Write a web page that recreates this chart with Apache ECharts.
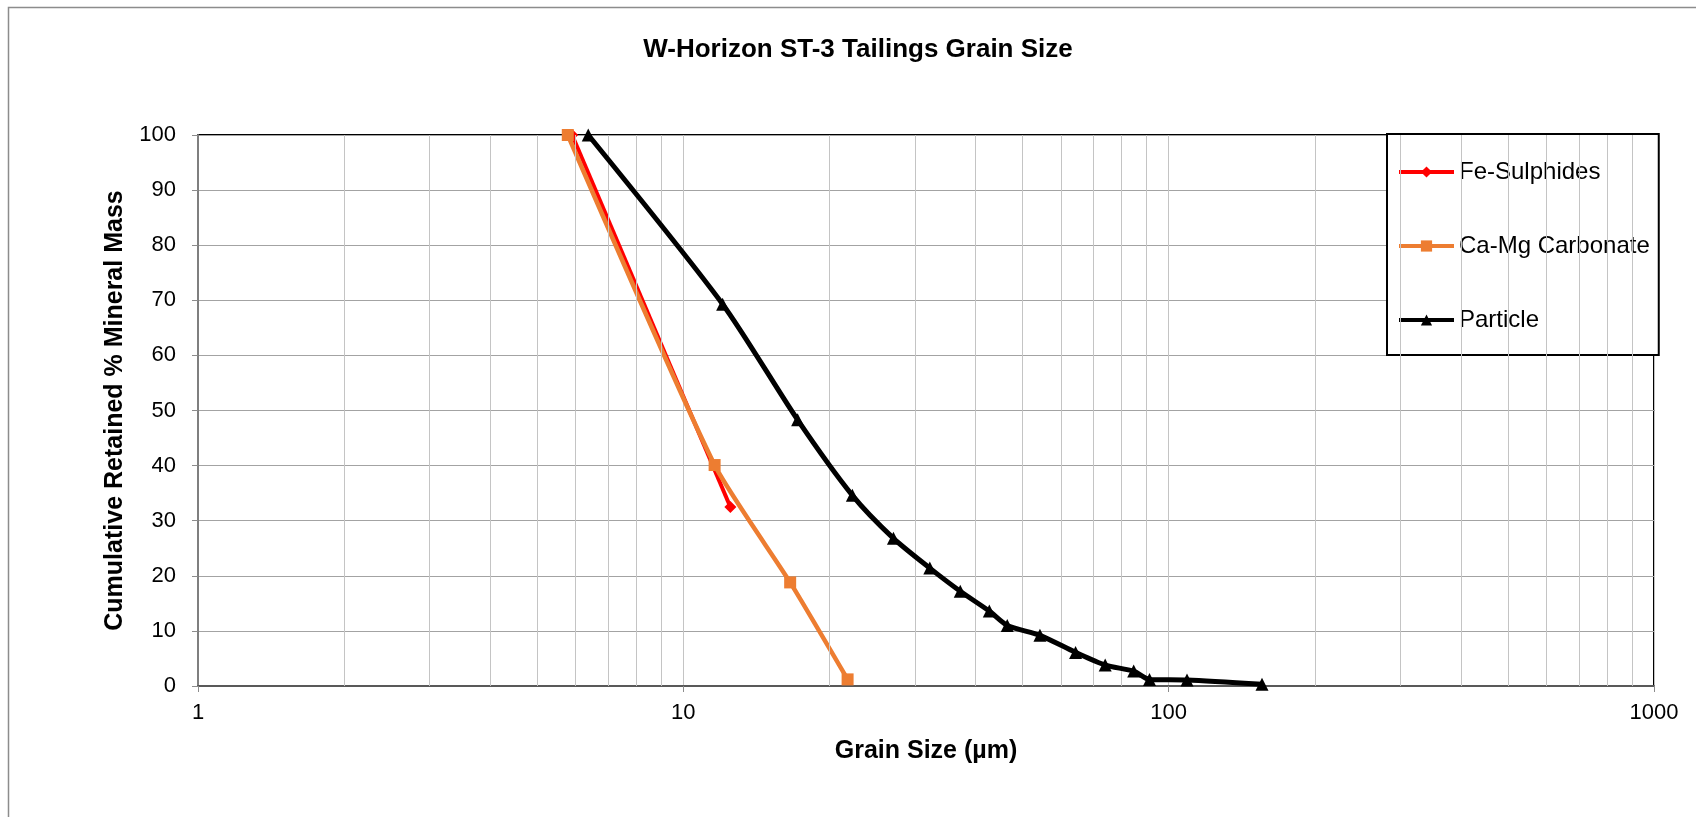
<!DOCTYPE html>
<html>
<head>
<meta charset="utf-8">
<script src="https://cdn.jsdelivr.net/npm/echarts@6/dist/echarts.min.js"></script>
<style>
  html, body { margin: 0; padding: 0; background: #fff; }
  #main { width: 1696px; height: 817px; }
</style>
</head>
<body>
<div id="main"></div>
<script>
var myChart = echarts.init(document.getElementById('main'));

// grain size (um) / cumulative retained %
var feSize = [5.9, 12.5];
var feRetained = [100, 32.5];

var caSize = [5.78, 11.6, 16.6, 21.8];
var caRetained = [100, 40.1, 18.8, 1.2];

var partSize = [6.37, 12.05, 17.2, 22.3, 27.1, 32.2, 37.2, 42.7, 46.5, 54.3, 64.3, 74.0, 84.7, 91.3, 109.1, 155.7];
var partRetained = [100, 69.3, 48.3, 34.6, 26.8, 21.4, 17.2, 13.6, 11.0, 9.2, 6.1, 3.8, 2.7, 1.2, 1.1, 0.3];

var xTicks = [1, 10, 100, 1000];
var yTicks = [0, 10, 20, 30, 40, 50, 60, 70, 80, 90, 100];

// minor log gridlines 2..9 in each decade
var minorX = [];
for (var d = 0; d < xTicks.length - 1; d++) {
    for (var k = 2; k <= 9; k++) {
        minorX.push({ xAxis: k * xTicks[d] });
    }
}

function pairs(xs, ys) {
    return xs.map(function (x, i) { return [x, ys[i]]; });
}

var font = 'Liberation Sans';

var option = {
    backgroundColor: '#fff',
    animation: false,
    title: {
        text: 'W-Horizon ST-3 Tailings Grain Size',
        left: 853,
        top: 32,
        textAlign: 'center',
        textStyle: { fontFamily: font, fontWeight: 'bold', fontSize: 26, color: '#000' }
    },
    graphic: [{
        type: 'rect',
        shape: { x: 8.5, y: 7.5, width: 1800, height: 900 },
        style: { fill: 'none', stroke: '#8c8c8c', lineWidth: 1.5 },
        silent: true
    }],
    legend: {
        data: ['Fe-Sulphides', 'Ca-Mg Carbonate', 'Particle'],
        orient: 'vertical',
        left: 1387,
        top: 134,
        backgroundColor: '#fff',
        borderColor: '#000',
        borderWidth: 2,
        padding: [26, 9, 23, 10],
        itemGap: 50,
        itemWidth: 55,
        itemHeight: 14,
        itemTextGap: 4,
        lineStyle: { width: 4 },
        textStyle: { fontFamily: font, fontSize: 24, lineHeight: 22, color: '#000' }
    },
    grid: {
        left: 198,
        right: 42,
        top: 135,
        bottom: 131,
        show: true,
        borderColor: '#000',
        borderWidth: 2
    },
    xAxis: {
        type: 'log',
        logBase: 10,
        min: xTicks[0],
        max: xTicks[xTicks.length - 1],
        name: 'Grain Size (\u00b5m)',
        nameLocation: 'middle',
        nameGap: 53,
        nameTextStyle: { fontFamily: font, fontWeight: 'bold', fontSize: 25, color: '#000' },
        axisLine: { lineStyle: { color: '#595959', width: 2 } },
        axisTick: { length: 6, lineStyle: { color: '#8c8c8c' } },
        axisLabel: {
            margin: 16,
            fontFamily: font,
            fontSize: 22,
            color: '#000',
            formatter: function (v) { return String(v); }
        },
        splitLine: { show: true, lineStyle: { color: '#c4c4c4', width: 1 } }
    },
    yAxis: {
        type: 'value',
        min: yTicks[0],
        max: yTicks[yTicks.length - 1],
        interval: 10,
        name: 'Cumulative Retained % Mineral Mass',
        nameLocation: 'middle',
        nameGap: 70,
        nameTextStyle: { fontFamily: font, fontWeight: 'bold', fontSize: 25, color: '#000' },
        axisLine: { show: true, lineStyle: { color: '#7f7f7f', width: 2 } },
        axisTick: { show: true, length: 6, lineStyle: { color: '#8c8c8c' } },
        axisLabel: { margin: 22, fontFamily: font, fontSize: 22, color: '#000' },
        splitLine: { show: true, lineStyle: { color: '#a3a3a3', width: 1 } }
    },
    series: [
        {
            type: 'line',
            data: [],
            silent: true,
            z: 1,
            markLine: {
                silent: true,
                symbol: ['none', 'none'],
                label: { show: false },
                lineStyle: { color: '#c4c4c4', width: 1, type: 'solid' },
                data: minorX
            }
        },
        {
            name: 'Fe-Sulphides',
            type: 'line',
            data: pairs(feSize, feRetained),
            color: '#ff0000',
            symbol: 'diamond',
            symbolSize: 12,
            lineStyle: { width: 4 },
            z: 3
        },
        {
            name: 'Ca-Mg Carbonate',
            type: 'line',
            data: pairs(caSize, caRetained),
            color: '#ed7d31',
            symbol: 'rect',
            symbolSize: 12,
            smooth: 0.2,
            lineStyle: { width: 4.5 },
            z: 4
        },
        {
            name: 'Particle',
            type: 'line',
            data: pairs(partSize, partRetained),
            color: '#000000',
            symbol: 'triangle',
            symbolSize: 13,
            smooth: 0.25,
            lineStyle: { width: 5 },
            z: 5
        }
    ]
};
myChart.setOption(option);
</script>
</body>
</html>
